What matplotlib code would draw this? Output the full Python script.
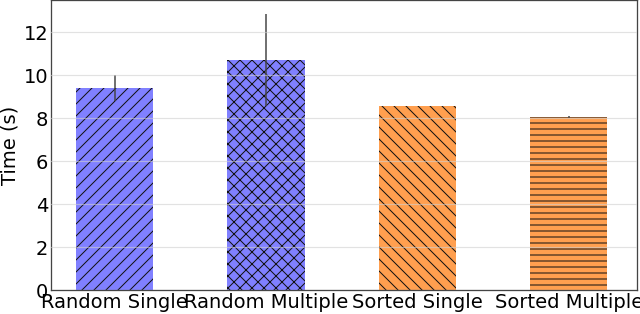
import matplotlib.pyplot as plt
import numpy as np

labels = ['Random Single', 'Random Multiple', 'Sorted Single', 'Sorted Multiple']
times = [9.42, 10.72, 8.56, 8.05]
errors = [0.6, 2.15, 0.0, 0.03]
colors = ['#8080ff', '#8080ff', '#ff9f4f', '#ff9f4f']
hatches = ['//', 'xx', '\\\\', '--']

# rendered at 72 dpi so the hatch spacing matches the reference
DPI = 72
plt.rcParams['hatch.linewidth'] = 1.0
plt.rcParams['hatch.color'] = '#111111'
fig, ax = plt.subplots(figsize=(640 / DPI, 314 / DPI), dpi=DPI)
x = np.arange(len(labels))
bars = ax.bar(x, times, width=0.51, color=colors, yerr=errors,
              edgecolor='#111111', linewidth=0,
              ecolor='#444444', error_kw={'elinewidth': 1.5}, zorder=2)
for b, h in zip(bars, hatches):
    b.set_hatch(h)

fs = 19.5
ax.set_xticks(x)
ax.set_xticklabels(labels, fontsize=fs)
ax.tick_params(axis='both', labelsize=fs, length=0, pad=3)
ax.set_ylabel('Time (s)', fontsize=fs, labelpad=4)
ax.set_ylim(0, 13.5)
ax.set_xlim(-0.42, 3.45)
ax.set_yticks([0, 2, 4, 6, 8, 10, 12])
ax.yaxis.grid(True, color='#d0d0d0', alpha=0.6, linewidth=1.2, zorder=3)
ax.set_axisbelow(False)
for s in ax.spines.values():
    s.set_color('#444444')
    s.set_linewidth(1.3)

fig.subplots_adjust(left=0.08, right=0.995, top=1.0, bottom=0.076)
plt.savefig('out.png', dpi=DPI)
plt.close()
